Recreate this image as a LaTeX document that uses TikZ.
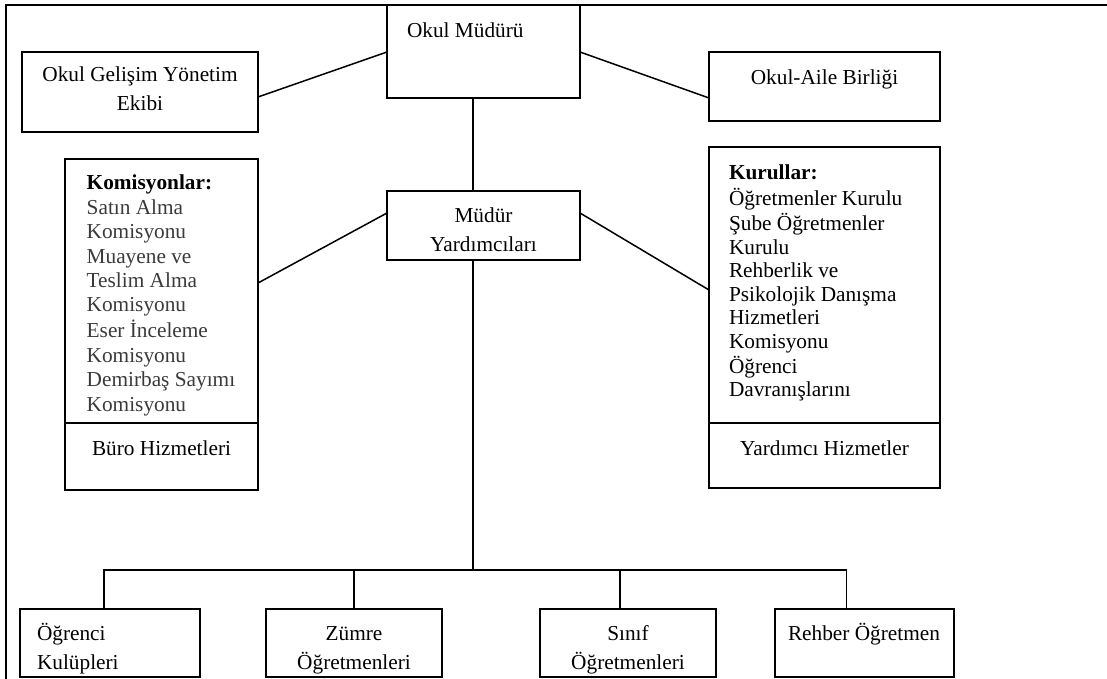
\documentclass[tikz,border=0pt]{standalone}
\usepackage{fontspec}
\setmainfont{Liberation Serif}
\usetikzlibrary{calc}
\definecolor{itemgray}{RGB}{58,58,58}
\newcommand\bigfs{\fontsize{21.3}{29}\selectfont}
\newcommand\komfs{\fontsize{21.3}{24.4}\selectfont}
\newcommand\kurfs{\fontsize{21.3}{23.5}\selectfont}
\begin{document}
\begin{tikzpicture}[x=1pt,y=-1pt,
  box/.style={draw, line width=1.6pt, anchor=north west, inner sep=0pt, outer sep=0pt},
  conn/.style={line width=1.5pt},
  lbl/.style={inner sep=0pt, outer sep=0pt, font=\bigfs, align=center},
  frameline/.style={line width=2.4pt}]
\useasboundingbox (0,0) rectangle (1107,679);
\clip (0,0) rectangle (1107,679);
\draw[frameline] (6,690) -- (6,5) -- (1115,5);

% boxes
\node[box, minimum width=193pt, minimum height=93pt] (mudur) at (387,5) {};
\node[box, minimum width=236pt, minimum height=80pt] (ogye) at (22,52) {};
\node[box, minimum width=231pt, minimum height=69pt] (oab) at (709,52) {};
\node[box, minimum width=193pt, minimum height=69pt] (my) at (387,191) {};
\node[box, minimum width=193pt, minimum height=264pt] (kom) at (65,159) {};
\node[box, minimum width=193pt, minimum height=67pt] (buro) at (65,423) {};
\node[box, minimum width=231pt, minimum height=276pt] (kur) at (709,147) {};
\node[box, minimum width=231pt, minimum height=65pt] (yh) at (709,423) {};
\node[box, minimum width=180pt, minimum height=68pt] (ok) at (20,609) {};
\node[box, minimum width=176pt, minimum height=68pt] (zum) at (266,609) {};
\node[box, minimum width=176pt, minimum height=68pt] (sin) at (540,609) {};
\node[box, minimum width=179pt, minimum height=68pt] (reh) at (775,609) {};

% texts
\node[lbl, anchor=base west] (tmudur) at (407,38) {Okul Müdürü};
\node[lbl, anchor=north] (togye) at (140,61.7) {\strut Okul Gelişim Yönetim\\\strut Ekibi};
\node[lbl, anchor=base] (toab) at (824.5,85) {Okul-Aile Birliği};
\node[lbl, anchor=north] (tmy) at (483.5,201.7) {\strut Müdür\\\strut Yardımcıları};
\node[lbl, anchor=north west, align=left, font=\komfs] (tkom) at (86.7,172.9)
  {\strut\textbf{Komisyonlar:}\\
   \strut\textcolor{itemgray}{Satın Alma}\\
   \strut\textcolor{itemgray}{Komisyonu}\\
   \strut\textcolor{itemgray}{Muayene ve}\\
   \strut\textcolor{itemgray}{Teslim Alma}\\
   \strut\textcolor{itemgray}{Komisyonu}\\
   \strut\textcolor{itemgray}{Eser İnceleme}\\
   \strut\textcolor{itemgray}{Komisyonu}\\
   \strut\textcolor{itemgray}{Demirbaş Sayımı}\\
   \strut\textcolor{itemgray}{Komisyonu}};
\node[lbl, anchor=base] (tburo) at (161.5,455) {Büro Hizmetleri};
\node[lbl, anchor=north west, align=left, font=\kurfs] (tkur) at (729,163.5)
  {\strut\textbf{Kurullar:}\\
   \strut Öğretmenler Kurulu\\
   \strut Şube Öğretmenler\\
   \strut Kurulu\\
   \strut Rehberlik ve\\
   \strut Psikolojik Danışma\\
   \strut Hizmetleri\\
   \strut Komisyonu\\
   \strut Öğrenci\\
   \strut Davranışlarını};
\node[lbl, anchor=base] (tyh) at (824.5,455) {Yardımcı Hizmetler};
\node[lbl, anchor=north west, align=left] (tok) at (37,619.7) {\strut Öğrenci\\\strut Kulüpleri};
\node[lbl, anchor=north] (tzum) at (354,619.7) {\strut Zümre\\\strut Öğretmenleri};
\node[lbl, anchor=north] (tsin) at (628,619.7) {\strut Sınıf\\\strut Öğretmenleri};
\node[lbl, anchor=base] (treh) at (864,640) {Rehber Öğretmen};

% connectors
\draw[conn] ($(mudur.north west)+(0,47)$) -- ($(ogye.north east)+(0,45)$);
\draw[conn] ($(mudur.north east)+(0,47)$) -- ($(oab.north west)+(0,46)$);
\draw[conn] ($(mudur.south)+(-10.5,0)$) -- ($(my.north)+(-10.5,0)$);
\draw[conn] ($(my.north west)+(0,22)$) -- ($(kom.north east)+(0,124)$);
\draw[conn] ($(my.north east)+(0,22)$) -- ($(kur.north west)+(0,143)$);
\coordinate (bus) at (473,570);
\draw[conn] ($(my.south)+(-10.5,0)$) -- (bus);
\draw[conn] ($(ok.north)+(-6,0)$) -- ++(0,-39) -| ($(reh.north)+(-18,0)$);
\draw[conn] ($(zum.north)+(0,0)$) -- ++(0,-39);
\draw[conn] ($(sin.north)+(-8,0)$) -- ++(0,-39);
\end{tikzpicture}
\end{document}
